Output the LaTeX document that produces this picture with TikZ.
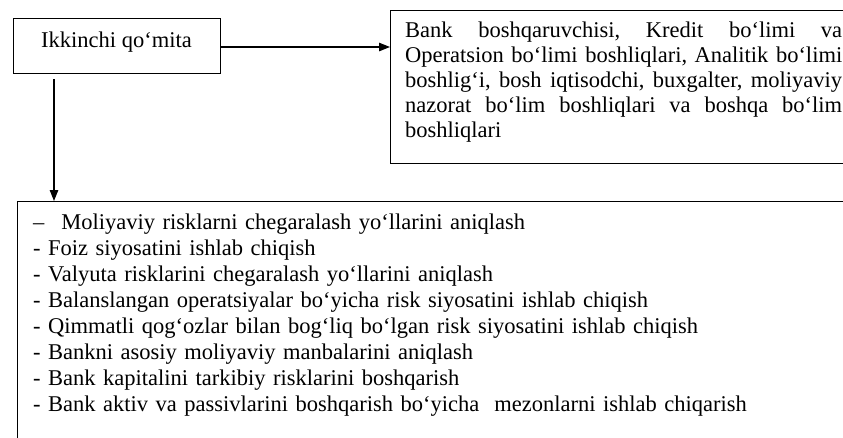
\documentclass[tikz,border=0pt]{standalone}
\usepackage{fontspec}
\setmainfont{Liberation Serif}
\usetikzlibrary{arrows.meta}
\newcommand{\fullline}[1]{\leavevmode\hbox to 437pt{#1}}
\tikzset{
  boxnode/.style={draw=black, line width=1.1pt, rectangle, inner sep=0pt, anchor=north west},
  txtnode/.style={inner sep=0pt, anchor=base west, align=left, text=black},
  arr/.style={draw=black, line width=1.1pt, -{Triangle[length=11pt,width=8.5pt]}}
}
\begin{document}
\begin{tikzpicture}[x=1pt,y=-1pt]
\useasboundingbox (0,0) rectangle (843,437);
\clip (0,0) rectangle (843,437);
\fill[white] (0,0) rectangle (843,437);
% boxes
\node[boxnode, minimum width=207pt, minimum height=55pt] (q) at (13,18) {};
\node[boxnode, minimum width=480pt, minimum height=153pt] (r) at (390,10) {};
\node[boxnode, minimum width=860pt, minimum height=270pt] (b) at (17,201) {};
% texts
\node[inner sep=0pt, anchor=base, font=\fontsize{22.5}{25}\selectfont] (qt) at (116.5,47) {Ikkinchi qo‘mita};
\node[txtnode, text width=437pt, font=\fontsize{22.5}{25}\selectfont] (rt) at (405,37)
 {\fullline{Bank\hfill boshqaruvchisi,\hfill Kredit\hfill bo‘limi\hfill va}\\
  \fullline{Operatsion\hfill bo‘limi\hfill boshliqlari,\hfill Analitik\hfill bo‘limi}\\
  \fullline{boshlig‘i,\hfill bosh\hfill iqtisodchi,\hfill buxgalter,\hfill moliyaviy}\\
  \fullline{nazorat\hfill bo‘lim\hfill boshliqlari\hfill va\hfill boshqa\hfill bo‘lim}\\
  boshliqlari};
\node[txtnode, text width=780pt, font=\fontsize{22.5}{26.1}\selectfont] (bt) at (33,229)
 {–\hspace{17pt}Moliyaviy risklarni chegaralash yo‘llarini aniqlash\\
  - Foiz siyosatini ishlab chiqish\\
  - Valyuta risklarini chegaralash yo‘llarini aniqlash\\
  - Balanslangan operatsiyalar bo‘yicha risk siyosatini ishlab chiqish\\
  - Qimmatli qog‘ozlar bilan bog‘liq bo‘lgan risk siyosatini ishlab chiqish\\
  - Bankni asosiy moliyaviy manbalarini aniqlash\\
  - Bank kapitalini tarkibiy risklarini boshqarish\\
  - Bank aktiv va passivlarini boshqarish bo‘yicha\ \ mezonlarni ishlab chiqarish};
% connectors
\coordinate (ds) at (54,79);
\draw[arr] (q.east |- 0,47) -- (r.west |- 0,47);
\draw[arr] (ds) -- (ds |- b.north);
\end{tikzpicture}
\end{document}
